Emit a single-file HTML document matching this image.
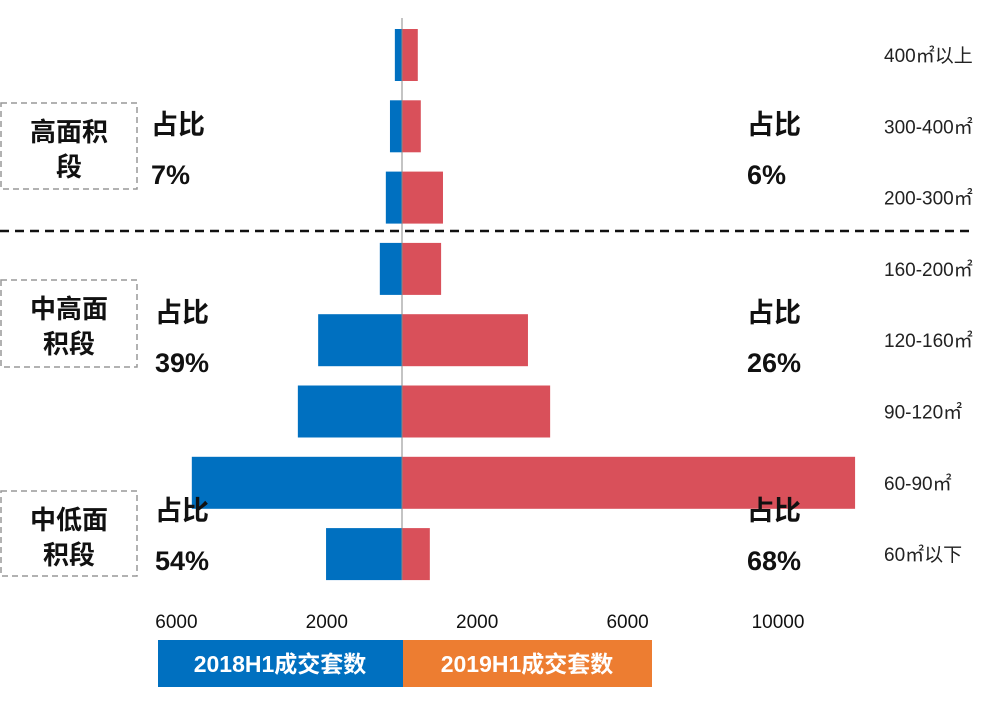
<!DOCTYPE html>
<html><head><meta charset="utf-8"><style>
body{margin:0;width:1000px;height:696px;background:#fff;overflow:hidden;font-family:"Liberation Sans","Noto Sans CJK SC",sans-serif}
svg text{font-family:"Liberation Sans","Noto Sans CJK SC",sans-serif}
</style></head><body>
<svg id="c" width="1000" height="696"></svg>
<script>
const categories=["400㎡以上","300-400㎡","200-300㎡","160-200㎡","120-160㎡","90-120㎡","60-90㎡","60㎡以下"];
const values2018=[190,320,430,590,2230,2770,5590,2020];
const values2019=[420,500,1090,1040,3350,3940,12050,740];
const tickValues=[-6000,-2000,2000,6000,10000];
const tickLabels=["6000","2000","2000","6000","10000"];
const NS="http://www.w3.org/2000/svg";
const svg=document.getElementById('c');
const cx=402,scale=0.0376;
const x=v=>cx+v*scale;
const rowY=i=>55+i*71.3;
const bh=52;
function mk(t,a,p){const e=document.createElementNS(NS,t);for(const k in a)e.setAttribute(k,a[k]);(p||svg).appendChild(e);return e;}
categories.forEach((c,i)=>{
 const r1=mk('rect',{x:x(-values2018[i]),y:rowY(i)-bh/2,width:values2018[i]*scale,height:bh,fill:'#0070c0'});
 
 
 const r2=mk('rect',{x:cx,y:rowY(i)-bh/2,width:values2019[i]*scale,height:bh,fill:'#d9505a'});
 
 
 const t=mk('text',{x:884,y:rowY(i)+7,'font-size':19,fill:'#222'});t.textContent=c;
 
 
});
const ax=mk('line',{x1:cx,y1:18,x2:cx,y2:580,stroke:'#888','stroke-width':1});


tickValues.forEach((v,i)=>{
 const t=mk('text',{x:x(v),y:628,'font-size':19,'text-anchor':'middle',fill:'#111'});t.textContent=tickLabels[i];
 
 
});
const dl=mk('line',{x1:0,y1:231,x2:975,y2:231,stroke:'#111','stroke-width':2.5,'stroke-dasharray':'9,6'});


const groups=[{y:103,h:86,l:["高面积","段"],lp:"7%",rp:"6%",ty:125},
{y:280,h:87,l:["中高面","积段"],lp:"39%",rp:"26%",ty:313},
{y:491,h:85,l:["中低面","积段"],lp:"54%",rp:"68%",ty:511}];
groups.forEach((g,i)=>{
 const b=mk('rect',{x:1,y:g.y,width:136,height:g.h,fill:'none',stroke:'#999','stroke-width':1.5,'stroke-dasharray':'6,4'});
 
 
 g.l.forEach((s,j)=>{const t=mk('text',{x:69,y:g.y+38+j*35,'font-size':26,'font-weight':'bold','text-anchor':'middle',fill:'#111'});t.textContent=s;
 
 });
 const lx=i==0?151:155;
 [[lx,"占比",g.ty],[lx,g.lp,g.ty+50],[747,"占比",g.ty],[747,g.rp,g.ty+50]].forEach(a=>{
  const t=mk('text',{x:a[0],y:a[2]+9,'font-size':27,'font-weight':'bold',fill:'#111'});t.textContent=a[1];
  
  
 });
});
const l1=mk('rect',{x:158,y:640,width:245,height:47,fill:'#0070c0'});


const l2=mk('rect',{x:403,y:640,width:249,height:47,fill:'#ed7d31'});


[[280,"2018H1成交套数"],[527,"2019H1成交套数"]].forEach(a=>{
 const t=mk('text',{x:a[0],y:672,'font-size':23,'font-weight':'bold','text-anchor':'middle',fill:'#fff'});t.textContent=a[1];
 
 
});
</script>
</body></html>
